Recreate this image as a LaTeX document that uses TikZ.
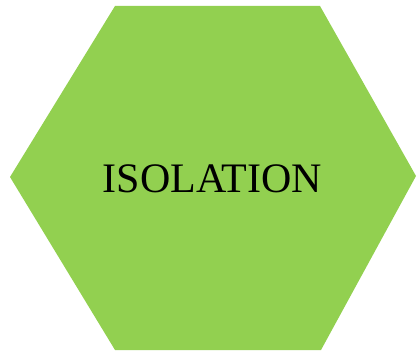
\documentclass[tikz,border=0pt]{standalone}
\usepackage{fontspec}
\setmainfont{Liberation Serif}
\definecolor{hexgreen}{HTML}{92D050}
\begin{document}
\begin{tikzpicture}[x=1pt,y=-1pt,
  hexfill/.style={fill=hexgreen,draw=none},
  label/.style={font=\fontsize{42}{42}\selectfont,text=black,inner sep=0pt}]
\useasboundingbox (0,0) rectangle (417,352);
\fill[hexfill] (115,6) -- (320,6) -- (416,176) -- (321,350) -- (115,350) -- (10,177) -- cycle;
\node[label] (t) at (212.5,179) {ISOLATION};
\end{tikzpicture}
\end{document}
